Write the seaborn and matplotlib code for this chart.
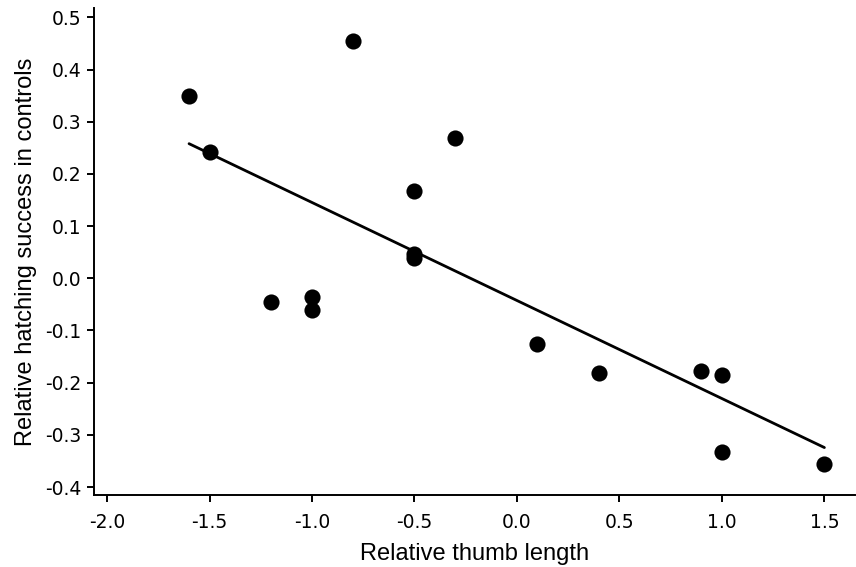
import numpy as np
import pandas as pd
import matplotlib
matplotlib.use("Agg")
import matplotlib.pyplot as plt
import seaborn as sns

# Values
thumb = [-1.6, -1.5, -0.8, -0.3, -0.5, -0.5, -0.5, -1.2, -1.0, -1.0,
         0.1, 0.4, 0.9, 1.0, 1.0, 1.5]
hatching = [0.350, 0.242, 0.455, 0.269, 0.167, 0.047, 0.039, -0.045, -0.036, -0.061,
            -0.126, -0.181, -0.177, -0.185, -0.333, -0.356]
xticks = [-2.0, -1.5, -1.0, -0.5, 0.0, 0.5, 1.0, 1.5]
yticks = [-0.4, -0.3, -0.2, -0.1, 0.0, 0.1, 0.2, 0.3, 0.4, 0.5]

df = pd.DataFrame({'thumb': thumb, 'hatching': hatching})

sns.set_style('ticks')
plt.rcParams['font.family'] = ['DejaVu Sans']

fig = plt.figure(figsize=(8.56, 5.67), dpi=100)
ax = fig.add_axes([0.110, 0.127, 0.889, 0.859])

sns.regplot(x='thumb', y='hatching', data=df, ci=None, ax=ax,
            scatter_kws={'s': 135, 'color': 'black', 'alpha': 1, 'linewidths': 0},
            line_kws={'color': 'black', 'lw': 2.0})

ax.set_xlim(-2.063, 1.65)
ax.set_ylim(-0.4153, 0.518)
ax.set_xticks(xticks)
ax.set_xticklabels([f"{t:.1f}" for t in xticks])
ax.set_yticks(yticks)
ax.set_yticklabels([f"{t:.1f}" for t in yticks])

for s in ['top', 'right']:
    ax.spines[s].set_visible(False)
for s in ['left', 'bottom']:
    ax.spines[s].set_linewidth(1.4)
    ax.spines[s].set_color('black')

ax.tick_params(direction='out', length=5, width=1.4, labelsize=13.5, colors='black')
ax.tick_params(axis='x', pad=8)
ax.tick_params(axis='y', pad=4)
ax.set_xlabel('Relative thumb length', fontsize=17, family='Liberation Sans',
              color='black', labelpad=8)
ax.set_ylabel('Relative hatching success in controls', fontsize=17,
              family='Liberation Sans', color='black', labelpad=6)

fig.savefig('out.png', dpi=100)
